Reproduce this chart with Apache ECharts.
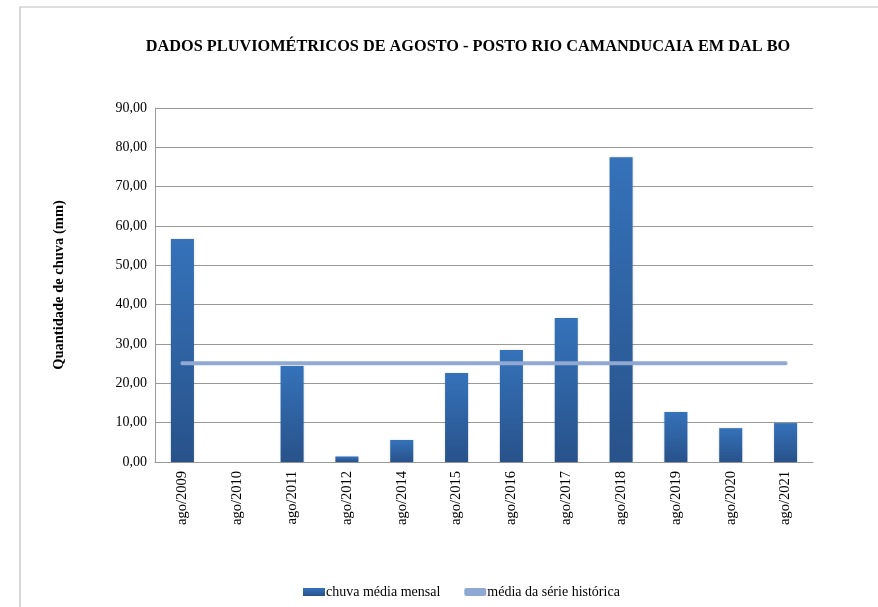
<!DOCTYPE html>
<html>
<head>
<meta charset="utf-8">
<script src="https://cdn.jsdelivr.net/npm/echarts@6/dist/echarts.min.js"></script>
<style>
  html, body { margin: 0; padding: 0; background: #fff; }
  #chart { width: 878px; height: 607px; }
</style>
</head>
<body>
<div id="chart"></div>
<script>
// valores
const anos = ['ago/2009', 'ago/2010', 'ago/2011', 'ago/2012', 'ago/2014', 'ago/2015',
  'ago/2016', 'ago/2017', 'ago/2018', 'ago/2019', 'ago/2020', 'ago/2021'];
const chuvaMensal = [56.7, 0, 24.4, 1.4, 5.6, 22.6, 28.5, 36.6, 77.5, 12.7, 8.6, 9.9];
const mediaHistorica = [25.1, 25.1, 25.1, 25.1, 25.1, 25.1, 25.1, 25.1, 25.1, 25.1, 25.1, 25.1];

const fonte = '"Liberation Serif", "Times New Roman", serif';

const chart = echarts.init(document.getElementById('chart'));

const option = {
  animation: false,
  backgroundColor: '#fff',
  textStyle: { fontFamily: fonte, color: '#000' },
  title: {
    text: 'DADOS PLUVIOMÉTRICOS DE AGOSTO - POSTO RIO CAMANDUCAIA EM DAL BO',
    left: 463,
    top: 34,
    textAlign: 'center',
    textStyle: { fontFamily: fonte, fontSize: 16.3, fontWeight: 'bold', color: '#000' }
  },
  graphic: [
    {
      type: 'polyline',
      shape: { points: [[878, 7], [20, 7], [20, 607]] },
      style: { stroke: '#bdbdbd', lineWidth: 1.2, fill: null }
    }
  ],
  legend: {
    bottom: 3,
    left: 298,
    itemGap: 24,
    itemWidth: 22,
    itemHeight: 8,
    textStyle: { fontFamily: fonte, fontSize: 14, color: '#000', padding: [0, 0, 0, -4] },
    data: [
      { name: 'chuva média mensal', icon: 'rect' },
      { name: 'média da série histórica', icon: 'roundRect' }
    ]
  },
  grid: { left: 155, right: 65, top: 108, bottom: 145 },
  xAxis: {
    type: 'category',
    data: anos,
    axisLine: { lineStyle: { color: '#999' } },
    axisTick: { show: false },
    axisLabel: {
      rotate: 90,
      interval: 0,
      margin: 9,
      fontFamily: fonte,
      fontSize: 14.5,
      color: '#000'
    }
  },
  yAxis: {
    type: 'value',
    min: 0,
    max: 90,
    interval: 10,
    name: 'Quantidade de chuva (mm)',
    nameLocation: 'middle',
    nameGap: 88,
    nameRotate: 90,
    nameTextStyle: { fontFamily: fonte, fontSize: 14.5, fontWeight: 'bold', color: '#000' },
    axisLine: { show: true, lineStyle: { color: '#999' } },
    axisTick: { show: false },
    splitLine: { lineStyle: { color: '#999' } },
    axisLabel: {
      margin: 8,
      fontFamily: fonte,
      fontSize: 14,
      color: '#000',
      formatter: v => v.toFixed(2).replace('.', ',')
    }
  },
  series: [
    {
      name: 'chuva média mensal',
      type: 'bar',
      data: chuvaMensal,
      barWidth: '42%',
      itemStyle: {
        color: new echarts.graphic.LinearGradient(0, 0, 0, 1, [
          { offset: 0, color: '#3572ba' },
          { offset: 1, color: '#28528a' }
        ]),
        shadowColor: 'rgba(0,0,0,0.15)',
        shadowBlur: 2
      }
    },
    {
      name: 'média da série histórica',
      type: 'line',
      data: mediaHistorica,
      symbol: 'none',
      lineStyle: { color: '#8fa9d3', width: 4, cap: 'round' },
      itemStyle: { color: '#8fa9d3' }
    }
  ]
};

chart.setOption(option);
</script>
</body>
</html>
